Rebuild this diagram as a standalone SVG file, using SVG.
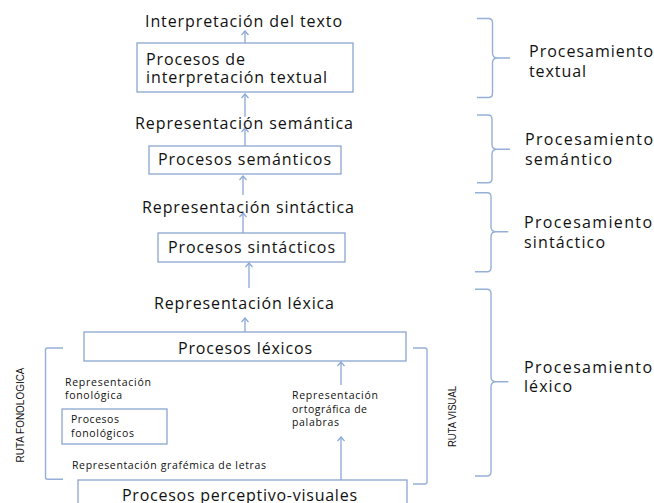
<svg xmlns="http://www.w3.org/2000/svg" width="654" height="503" viewBox="0 0 654 503">
<style>
.bx{fill:#ffffff;stroke:#8aa5cf;stroke-width:1.3}
.t{font-family:"Open Sans","DejaVu Sans",sans-serif;font-size:16px;fill:#111111}
.s{font-family:"Open Sans","DejaVu Sans",sans-serif;font-size:10.5px;fill:#111111}
.r{font-family:"Liberation Sans",Arial,sans-serif;font-size:11.5px;fill:#111111}
.ar{fill:none;stroke:#8aa7d4;stroke-width:1.3}
.br{fill:none;stroke:#95b0d8;stroke-width:1.4}
</style>
<defs>
<marker id="ah" viewBox="-6 -5 8 10" markerWidth="8" markerHeight="10" refX="0" refY="0" orient="auto" markerUnits="userSpaceOnUse">
<path d="M-4,-3.5 L0,0 L-4,3.5" fill="none" stroke="#8aa7d4" stroke-width="1.2"/>
</marker>
</defs>
<rect width="654" height="503" fill="#ffffff"/>

<g id="connectors">
<line class="ar" x1="245" y1="43" x2="245" y2="31" marker-end="url(#ah)"/>
<line class="ar" x1="245" y1="117" x2="245" y2="94" marker-end="url(#ah)"/>
<line class="ar" x1="245" y1="146" x2="245" y2="128" marker-end="url(#ah)"/>
<line class="ar" x1="243" y1="195" x2="243" y2="176" marker-end="url(#ah)"/>
<line class="ar" x1="243" y1="233" x2="243" y2="213" marker-end="url(#ah)"/>
<line class="ar" x1="249" y1="288" x2="249" y2="263" marker-end="url(#ah)"/>
<line class="ar" x1="245" y1="332" x2="245" y2="318" marker-end="url(#ah)"/>
<line class="ar" x1="341" y1="385" x2="341" y2="362" marker-end="url(#ah)"/>
<line class="ar" x1="341" y1="480" x2="341" y2="437" marker-end="url(#ah)"/>
</g>

<g id="n-interp-texto"><text class="t" x="145" y="27" textLength="197">Interpretación del texto</text></g>
<g id="n-proc-interp">
<rect class="bx" x="137" y="43" width="216" height="49"/>
<text class="t" x="146" y="65" textLength="99">Procesos de</text>
<text class="t" x="146" y="83" textLength="181">interpretación textual</text>
</g>
<g id="n-rep-sem"><text class="t" x="135" y="129" textLength="218">Representación semántica</text></g>
<g id="n-proc-sem">
<rect class="bx" x="149" y="146" width="192" height="28"/>
<text class="t" x="158" y="165" textLength="173">Procesos semánticos</text>
</g>
<g id="n-rep-sin"><text class="t" x="142" y="212.5" textLength="212">Representación sintáctica</text></g>
<g id="n-proc-sin">
<rect class="bx" x="158" y="233" width="187" height="29"/>
<text class="t" x="168" y="252.5" textLength="167">Procesos sintácticos</text>
</g>
<g id="n-rep-lex"><text class="t" x="154" y="309" textLength="180">Representación léxica</text></g>
<g id="n-proc-lex">
<rect class="bx" x="84" y="332" width="322" height="29"/>
<text class="t" x="178" y="353.5" textLength="134">Procesos léxicos</text>
</g>
<g id="n-rep-fon">
<text class="s" x="65" y="385.5" textLength="86">Representación</text>
<text class="s" x="65" y="399.3" textLength="57">fonológica</text>
</g>
<g id="n-proc-fon">
<rect class="bx" x="62" y="409" width="105" height="35"/>
<text class="s" x="71" y="423.3" textLength="48">Procesos</text>
<text class="s" x="71" y="436.7" textLength="63">fonológicos</text>
</g>
<g id="n-rep-graf"><text class="s" x="72" y="469" textLength="194">Representación grafémica de letras</text></g>
<g id="n-rep-orto">
<text class="s" x="292" y="399.3" textLength="86">Representación</text>
<text class="s" x="292" y="412.7" textLength="75">ortográfica de</text>
<text class="s" x="292" y="426.3" textLength="47">palabras</text>
</g>
<g id="n-proc-perc">
<rect class="bx" x="78" y="480" width="329" height="40"/>
<text class="t" x="122" y="500.5" textLength="235">Procesos perceptivo-visuales</text>
</g>

<g id="ruta-fonologica">
<path class="br" d="M63,348 L47.5,348 Q45.5,348 45.5,350 L45.5,477.3 Q45.5,479.3 47.5,479.3 L63,479.3"/>
<text class="r" transform="translate(24,415) rotate(-90)" text-anchor="middle" textLength="95" lengthAdjust="spacingAndGlyphs">RUTA FONOLOGICA</text>
</g>
<g id="ruta-visual">
<path class="br" d="M413,348 L425,348 Q427,348 427,350 L427,482 Q427,484 425,484 L413,484"/>
<text class="r" transform="translate(456,416.5) rotate(-90)" text-anchor="middle" textLength="61" lengthAdjust="spacingAndGlyphs">RUTA VISUAL</text>
</g>

<g id="proc-textual">
<path class="br" d="M477,18.5 L488.5,18.5 Q492.5,18.5 492.5,22.5 L492.5,53 Q492.5,58 497.5,58 L510,58 M497.5,58 Q492.5,58 492.5,63 L492.5,93.5 Q492.5,97.5 488.5,97.5 L477,97.5"/>
<text class="t" x="529" y="56.7" textLength="124">Procesamiento</text>
<text class="t" x="529" y="76.7" textLength="57">textual</text>
</g>
<g id="proc-semantico">
<path class="br" d="M477,115 L488,115 Q492,115 492,119 L492,144.3 Q492,149.3 497,149.3 L510,149.3 M497,149.3 Q492,149.3 492,154.3 L492,178.7 Q492,182.7 488,182.7 L477,182.7"/>
<text class="t" x="525" y="145" textLength="128">Procesamiento</text>
<text class="t" x="525" y="165" textLength="87">semántico</text>
</g>
<g id="proc-sintactico">
<path class="br" d="M475,192.7 L487,192.7 Q491,192.7 491,196.7 L491,226.7 Q491,231.7 496,231.7 L508.3,231.7 M496,231.7 Q491,231.7 491,236.7 L491,267.7 Q491,271.7 487,271.7 L475,271.7"/>
<text class="t" x="524" y="228.3" textLength="128">Procesamiento</text>
<text class="t" x="524" y="248.3" textLength="81">sintáctico</text>
</g>
<g id="proc-lexico">
<path class="br" d="M475,289.3 L487,289.3 Q491,289.3 491,293.3 L491,376.7 Q491,381.7 496,381.7 L508.3,381.7 M496,381.7 Q491,381.7 491,386.7 L491,472 Q491,476 487,476 L475,476"/>
<text class="t" x="524" y="373.3" textLength="128">Procesamiento</text>
<text class="t" x="524" y="391.5" textLength="48">léxico</text>
</g>
</svg>
